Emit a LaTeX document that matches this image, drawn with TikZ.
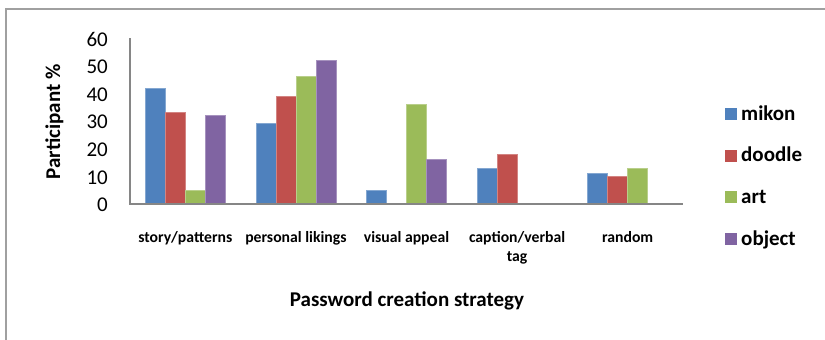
\documentclass[tikz,border=0pt]{standalone}
\usepackage{fontspec}
\setmainfont{Carlito}
\definecolor{mikonc}{HTML}{4F81BD}
\definecolor{doodlec}{HTML}{C0504D}
\definecolor{artc}{HTML}{9BBB59}
\definecolor{objectc}{HTML}{8064A2}
\definecolor{axisgray}{HTML}{868686}
\definecolor{framegray}{HTML}{A0A0A0}
\tikzset{
  frame/.style={draw=framegray, line width=1.5pt},
  axisline/.style={draw=axisgray, line width=1.6pt},
  ticklabel/.style={font=\fontsize{21}{25}\selectfont, inner sep=0pt, anchor=east},
  catlabel/.style={font=\fontsize{15.7}{19}\selectfont\bfseries, inner sep=0pt, align=center, anchor=base},
  axistitle/.style={font=\fontsize{21}{25}\selectfont\bfseries, inner sep=0pt, anchor=base},
  legendtext/.style={font=\fontsize{21}{25}\selectfont\bfseries, inner sep=0pt, anchor=base west},
  barfill/.style={fill=#1, draw=#1!70!white, line width=0.6pt},
}
\begin{document}
\begin{tikzpicture}[x=1pt, y=-1pt]
\useasboundingbox (0,0) rectangle (825,340);
% chart frame (runs off the right and bottom edges)
\draw[frame] (6,9) rectangle (840,350);

% bars: value scale 166pt per 60 %, zero line at y=204
\foreach \cx/\va/\vb/\vc/\vd in {185.3/42/33/5/32, 295.9/29/39/46/52, 406.5/5/0/36/16, 517.1/13/18/0/0, 627.7/11/10/13/0}{
  \ifdim\va pt>0pt \path[barfill=mikonc]   (\cx-40,204) rectangle (\cx-20,{204-\va*166/60}); \fi
  \ifdim\vb pt>0pt \path[barfill=doodlec]  (\cx-20,204) rectangle (\cx,{204-\vb*166/60}); \fi
  \ifdim\vc pt>0pt \path[barfill=artc]     (\cx,204) rectangle (\cx+20,{204-\vc*166/60}); \fi
  \ifdim\vd pt>0pt \path[barfill=objectc]  (\cx+20,204) rectangle (\cx+40,{204-\vd*166/60}); \fi
}

% axes
\coordinate (ytop) at (130,38);
\coordinate (origin) at (130,204);
\coordinate (xend) at (683,204);
\draw[axisline] (ytop) -- (origin) -- (xend);

% value labels
\foreach \v in {0,10,...,60}
  \node[ticklabel] (tick\v) at (108,{205-\v*166/60}) {\v};

% category labels (two-line label is anchored on its last line)
\node[catlabel] (cat1) at (185.3,242) {story/patterns};
\node[catlabel] (cat2) at (295.9,242) {personal likings};
\node[catlabel] (cat3) at (406.5,242) {visual appeal};
\node[catlabel] (cat4) at (517.1,261) {caption/verbal\\tag};
\node[catlabel] (cat5) at (627.7,242) {random};

% axis titles
\node[axistitle, rotate=90] (ytitle) at (60,122) {Participant \%};
\node[axistitle] (xtitle) at (407,306) {Password creation strategy};

% legend
\foreach \name/\col/\yb [count=\k] in {mikon/mikonc/120, doodle/doodlec/161.7, art/artc/203, object/objectc/245}{
  \fill[\col] (725,\yb) rectangle (737,\yb-12);
  \node[legendtext] (leg\k) at (741,\yb) {\name};
}
\end{tikzpicture}
\end{document}
